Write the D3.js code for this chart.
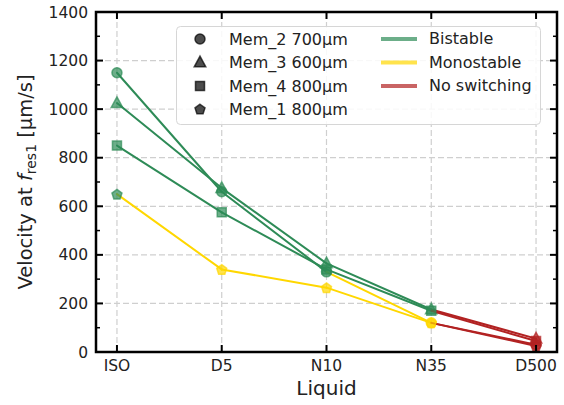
<!DOCTYPE html>
<html>
<head>
<meta charset="utf-8">
<script src="https://cdn.jsdelivr.net/npm/d3@7"></script>
<style>
  html, body { margin: 0; padding: 0; background: #fff; }
  svg { display: block; font-family: "DejaVu Sans", sans-serif; }
</style>
</head>
<body>
<svg id="chart" width="564" height="405"></svg>
<script>
// Liquids on the x axis
const liquids = ["ISO", "D5", "N10", "N35", "D500"];

// Velocity at f_res1 [µm/s] per membrane
const mem2Values = [1150, 660, 330, 120, 30];
const mem3Values = [1025, 675, 365, 175, 55];
const mem4Values = [850, 575, 340, 170, 45];
const mem1Values = [650, 340, 265, 120, 25];

// Switching behaviour at each liquid: B = bistable, M = monostable, N = no switching
const mem2States = ["B", "B", "B", "M", "N"];
const mem3States = ["B", "B", "B", "B", "N"];
const mem4States = ["B", "B", "B", "B", "N"];
const mem1States = ["B", "M", "M", "M", "N"];

const memberNames = ["Mem_2 700µm", "Mem_3 600µm", "Mem_4 800µm", "Mem_1 800µm"];
const memberShapes = ["circle", "triangle", "square", "pentagon"];

const stateNames = ["Bistable", "Monostable", "No switching"];
const stateKeys = ["B", "M", "N"];
const stateColors = { B: "#2e8b57", M: "#ffd700", N: "#b22222" };

const yTicks = [0, 200, 400, 600, 800, 1000, 1200, 1400];

const members = [
  { name: memberNames[0], shape: memberShapes[0], values: mem2Values, states: mem2States },
  { name: memberNames[1], shape: memberShapes[1], values: mem3Values, states: mem3States },
  { name: memberNames[2], shape: memberShapes[2], values: mem4Values, states: mem4States },
  { name: memberNames[3], shape: memberShapes[3], values: mem1Values, states: mem1States }
];

const svg = d3.select("#chart");
const margin = { left: 96, right: 7, top: 12, bottom: 53 };
const W = 564, H = 405;
const x0 = margin.left, x1 = W - margin.right, y0 = H - margin.bottom, y1 = margin.top;

const x = d3.scaleLinear().domain([-0.2, liquids.length - 1 + 0.2]).range([x0, x1]);
const y = d3.scaleLinear().domain([0, 1400]).range([y0, y1]);

// Grid lines
const grid = svg.append("g").attr("class", "grid")
  .attr("stroke", "#cfcfcf").attr("stroke-width", 1.2).attr("stroke-dasharray", "6,3");
grid.selectAll("line.gx").data(liquids.map((d, i) => i)).join("line")
  .attr("x1", d => x(d)).attr("x2", d => x(d)).attr("y1", y0).attr("y2", y1);
grid.selectAll("line.gy").data(yTicks.slice(1, -1)).join("line")
  .attr("x1", x0).attr("x2", x1).attr("y1", d => y(d)).attr("y2", d => y(d));

// Symbol generator
function symbolPath(shape, r) {
  if (shape === "circle") return d3.symbol(d3.symbolCircle, Math.PI * r * r)();
  if (shape === "square") return d3.symbol(d3.symbolSquare, (1.8 * r) * (1.8 * r))();
  if (shape === "triangle") {
    const s = r * 1.15;
    return `M0,${-s * 1.1}L${s},${s * 0.75}L${-s},${s * 0.75}Z`;
  }
  // pentagon
  const pts = d3.range(5).map(k => {
    const a = -Math.PI / 2 + k * 2 * Math.PI / 5;
    return [r * 1.05 * Math.cos(a), r * 1.05 * Math.sin(a) + 0.5];
  });
  return "M" + pts.map(p => p.join(",")).join("L") + "Z";
}

// Series: coloured segments, then markers
const plot = svg.append("g");
members.forEach(m => {
  const segs = d3.range(m.values.length - 1).map(i => ({ i, state: m.states[i + 1] }));
  plot.append("g").selectAll("line").data(segs).join("line")
    .attr("x1", d => x(d.i)).attr("y1", d => y(m.values[d.i]))
    .attr("x2", d => x(d.i + 1)).attr("y2", d => y(m.values[d.i + 1]))
    .attr("stroke", d => stateColors[d.state]).attr("stroke-width", 2)
    .attr("stroke-linecap", "round");
  plot.append("g").selectAll("path").data(m.values).join("path")
    .attr("d", symbolPath(m.shape, 5))
    .attr("transform", (d, i) => `translate(${x(i)},${y(d)})`)
    .attr("fill", (d, i) => stateColors[m.states[i]]).attr("fill-opacity", 0.7)
    .attr("stroke", (d, i) => stateColors[m.states[i]]).attr("stroke-opacity", 0.7)
    .attr("stroke-width", 1.5);
});

// Axes with inward ticks on all four sides
const axes = svg.append("g");
const tickLen = 7, minorLen = 4;
const minorY = d3.range(100, 1400, 200);
function drawTicks(vals, len, sw) {
  vals.forEach(v => {
    axes.append("line").attr("x1", x0).attr("x2", x0 + len).attr("y1", y(v)).attr("y2", y(v))
      .attr("stroke", "#000").attr("stroke-width", sw);
    axes.append("line").attr("x1", x1).attr("x2", x1 - len).attr("y1", y(v)).attr("y2", y(v))
      .attr("stroke", "#000").attr("stroke-width", sw);
  });
}
drawTicks(yTicks, tickLen, 2);
drawTicks(minorY, minorLen, 1.5);
liquids.forEach((d, i) => {
  axes.append("line").attr("x1", x(i)).attr("x2", x(i)).attr("y1", y0).attr("y2", y0 - tickLen)
    .attr("stroke", "#000").attr("stroke-width", 2);
  axes.append("line").attr("x1", x(i)).attr("x2", x(i)).attr("y1", y1).attr("y2", y1 + tickLen)
    .attr("stroke", "#000").attr("stroke-width", 2);
});
axes.append("rect").attr("x", x0).attr("y", y1).attr("width", x1 - x0).attr("height", y0 - y1)
  .attr("fill", "none").attr("stroke", "#000").attr("stroke-width", 2.5);

// Tick labels
svg.append("g").selectAll("text").data(yTicks).join("text")
  .attr("x", x0 - 8).attr("y", d => y(d)).attr("dy", "0.36em")
  .attr("text-anchor", "end").attr("font-size", 15.5).attr("fill", "#222")
  .text(d => d);
svg.append("g").selectAll("text").data(liquids).join("text")
  .attr("x", (d, i) => x(i)).attr("y", y0 + 19)
  .attr("text-anchor", "middle").attr("font-size", 15.5).attr("fill", "#222")
  .text(d => d);

// Axis titles
svg.append("text").attr("x", (x0 + x1) / 2).attr("y", 395)
  .attr("text-anchor", "middle").attr("font-size", 20).attr("fill", "#222").text("Liquid");
const yl = svg.append("text")
  .attr("transform", `translate(32,${(y0 + y1) / 2}) rotate(-90)`)
  .attr("text-anchor", "middle").attr("font-size", 19.5).attr("fill", "#222");
yl.append("tspan").text("Velocity at ");
yl.append("tspan").attr("font-style", "italic").text("f");
yl.append("tspan").attr("font-size", 14).attr("dy", 4).text("res1");
yl.append("tspan").attr("dy", -4).text(" [µm/s]");

// Legend
const lg = svg.append("g");
lg.append("rect").attr("x", 176.5).attr("y", 26.5).attr("width", 364).attr("height", 98)
  .attr("rx", 4).attr("fill", "#fff").attr("fill-opacity", 0.85)
  .attr("stroke", "#d6d6d6").attr("stroke-width", 1);
const rowY = [39, 62.5, 86, 109];
members.forEach((m, k) => {
  lg.append("path").attr("d", symbolPath(m.shape, 5))
    .attr("transform", `translate(200,${rowY[k]})`)
    .attr("fill", "#000").attr("fill-opacity", 0.7)
    .attr("stroke", "#000").attr("stroke-opacity", 0.7).attr("stroke-width", 1.5);
  lg.append("text").attr("x", 229).attr("y", rowY[k]).attr("dy", "0.36em")
    .attr("font-size", 16).attr("fill", "#222").text(m.name);
});
stateKeys.forEach((s, k) => {
  lg.append("line").attr("x1", 381).attr("x2", 417).attr("y1", rowY[k]).attr("y2", rowY[k])
    .attr("stroke", stateColors[s]).attr("stroke-opacity", 0.7).attr("stroke-width", 4);
  lg.append("text").attr("x", 429).attr("y", rowY[k] - 0.5).attr("dy", "0.36em")
    .attr("font-size", 16).attr("fill", "#222").text(stateNames[k]);
});
</script>
</body>
</html>
